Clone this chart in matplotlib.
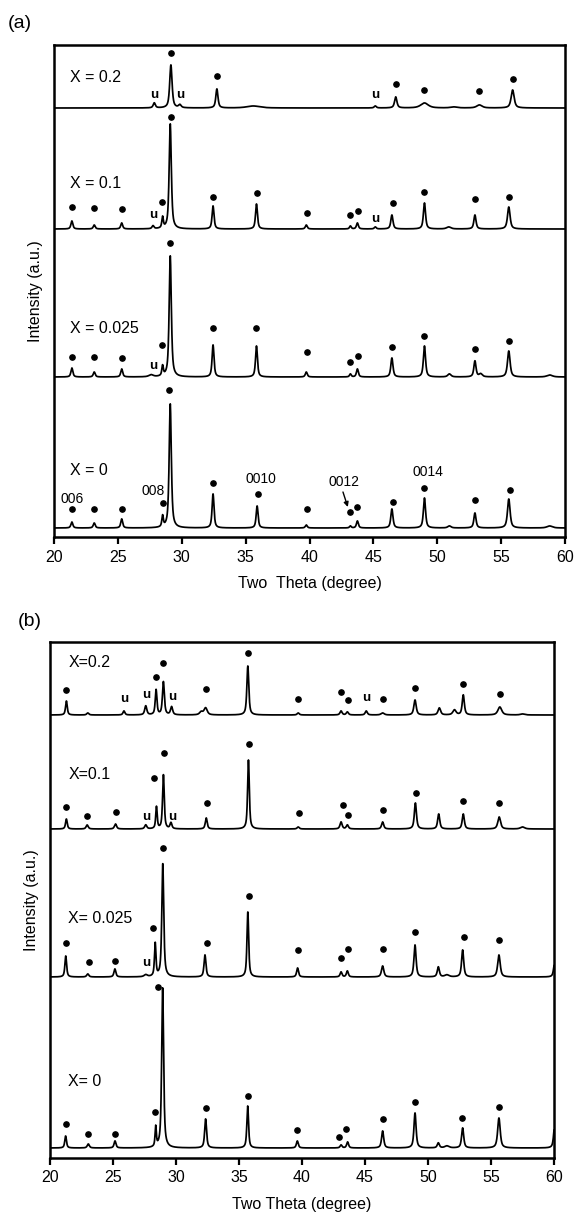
import numpy as np
import matplotlib.pyplot as plt

plt.rcParams['font.family'] = ['Liberation Sans', 'DejaVu Sans']

# scan range shared by both panels
two_theta = np.linspace(20, 60, 4001)

# ---------------- panel (a) ----------------
a_names = ['X = 0.2', 'X = 0.1', 'X = 0.025', 'X = 0']
a_offsets = [429, 308, 160, 9]

a02_pos = [27.85, 29.15, 29.85, 32.75, 35.6, 45.15, 46.75, 49.0, 51.3, 53.3, 55.9]
a02_hgt = [5, 43, 3, 19, 2, 2, 11, 5, 1, 3, 18]
a02_wid = [0.1, 0.11, 0.12, 0.1, 0.6, 0.1, 0.11, 0.35, 0.3, 0.25, 0.14]
a02_dot_x = [29.15, 32.75, 46.75, 49.0, 53.3, 55.9]
a02_dot_y = [484, 461, 453, 447, 446, 458]

a01_pos = [21.4, 23.15, 25.3, 27.75, 28.5, 29.1, 32.45, 35.85, 39.75, 43.2, 43.75, 45.15,
           46.45, 49.0, 50.9, 52.95, 55.6]
a01_hgt = [8, 4, 6, 3, 11, 105, 23, 25, 4, 3, 6, 2, 14, 26, 2, 14, 22]
a01_wid = [0.09, 0.09, 0.09, 0.09, 0.07, 0.1, 0.09, 0.09, 0.09, 0.08, 0.09, 0.09,
           0.1, 0.1, 0.2, 0.1, 0.12]
a01_dot_x = [21.4, 23.15, 25.3, 28.45, 29.15, 32.45, 35.9, 39.8, 43.2, 43.8, 46.5, 49.0,
             52.95, 55.65]
a01_dot_y = [330, 329, 328, 335, 420, 340, 344, 324, 322, 326, 334, 345, 338, 340]

a025_pos = [21.4, 23.15, 25.3, 27.6, 28.5, 29.1, 32.45, 35.85, 39.75, 43.2, 43.75, 46.45,
            49.0, 50.95, 52.95, 53.4, 55.6, 58.8]
a025_hgt = [9, 5, 8, 2, 10, 121, 32, 31, 5, 3, 8, 19, 31, 3, 16, 3, 26, 2]
a025_wid = [0.09, 0.09, 0.09, 0.2, 0.07, 0.1, 0.09, 0.09, 0.09, 0.08, 0.09, 0.1,
            0.1, 0.15, 0.1, 0.15, 0.12, 0.25]
a025_dot_x = [21.4, 23.15, 25.3, 28.45, 29.05, 32.45, 35.85, 39.8, 43.2, 43.8, 46.45,
              49.0, 52.95, 55.6]
a025_dot_y = [180, 180, 179, 192, 294, 209, 209, 185, 175, 181, 190, 201, 188, 196]

a0_pos = [21.4, 23.15, 25.3, 28.5, 29.1, 32.45, 35.9, 39.75, 43.2, 43.75, 46.45, 49.0,
          50.95, 52.95, 55.6, 58.8]
a0_hgt = [6, 5, 9, 11, 124, 34, 22, 3, 2, 7, 19, 30, 2, 15, 29, 2]
a0_wid = [0.09, 0.09, 0.09, 0.07, 0.1, 0.09, 0.09, 0.09, 0.08, 0.09, 0.1, 0.1,
          0.15, 0.1, 0.12, 0.25]
a0_dot_x = [21.4, 23.15, 25.3, 28.5, 29.0, 32.45, 35.95, 39.8, 43.15, 43.75, 46.5, 49.0,
            52.95, 55.7]
a0_dot_y = [28, 28, 28, 34, 147, 54, 43, 28, 25, 30, 35, 49, 37, 47]

a_u_x = [27.83, 29.86, 45.13, 27.75, 45.13, 27.75]
a_u_y = [442, 442, 442, 322, 318, 171]

a_hkl = ['006', '008', '0010', '0012', '0014']
a_hkl_x = [21.4, 27.75, 36.2, 42.7, 49.3]
a_hkl_y = [38, 46, 58, 55, 65]

# ---------------- panel (b) ----------------
b_names = ['X=0.2', 'X=0.1', 'X= 0.025', 'X= 0']
b_offsets = [443, 329, 181, 10]

b02_pos = [21.3, 23.0, 25.87, 27.6, 28.42, 29.0, 29.65, 32.0, 32.35, 35.7, 39.7, 43.1,
           43.6, 45.1, 46.4, 48.97, 50.9, 52.1, 52.8, 55.7, 57.5]
b02_hgt = [14, 2, 4, 9, 25, 33, 8, 3, 7, 49, 2, 4, 3, 4, 2, 15, 7, 5, 20, 8, 1]
b02_wid = [0.08, 0.1, 0.09, 0.1, 0.08, 0.09, 0.1, 0.15, 0.15, 0.09, 0.1, 0.1,
           0.1, 0.1, 0.15, 0.11, 0.12, 0.15, 0.1, 0.18, 0.2]
b02_dot_x = [21.27, 28.41, 28.97, 32.38, 35.71, 39.68, 43.1, 43.65, 46.43, 48.97, 52.78,
             55.71]
b02_dot_y = [468, 481, 495, 469, 505, 459, 466, 458, 459, 470, 474, 464]

b01_pos = [21.3, 22.95, 25.2, 27.6, 28.45, 29.0, 29.6, 32.4, 35.75, 39.7, 43.1, 43.6,
           46.4, 49.0, 50.85, 52.8, 55.65, 57.5]
b01_hgt = [10, 4, 5, 4, 22, 54, 6, 11, 69, 2, 7, 4, 7, 26, 15, 15, 12, 2]
b01_wid = [0.08, 0.1, 0.1, 0.1, 0.07, 0.08, 0.09, 0.09, 0.08, 0.1, 0.1, 0.1,
           0.1, 0.1, 0.1, 0.1, 0.13, 0.2]
b01_dot_x = [21.3, 22.94, 25.24, 28.25, 29.05, 32.46, 35.8, 39.76, 43.25, 43.65, 46.43,
             49.05, 52.78, 55.63]
b01_dot_y = [351, 342, 346, 380, 405, 355, 414, 345, 353, 343, 348, 365, 357, 355]

b025_pos = [21.25, 23.0, 25.15, 27.6, 28.35, 28.95, 32.3, 35.7, 39.65, 43.1, 43.6, 46.4,
            48.97, 50.82, 51.5, 52.75, 55.63, 60.05]
b025_hgt = [21, 3, 8, 2, 33, 113, 22, 65, 9, 5, 6, 11, 32, 10, 2, 27, 22, 14]
b025_wid = [0.08, 0.1, 0.09, 0.15, 0.07, 0.09, 0.09, 0.08, 0.09, 0.09, 0.09, 0.11,
            0.1, 0.1, 0.2, 0.1, 0.12, 0.1]
b025_dot_x = [21.27, 23.1, 25.16, 28.2, 28.97, 32.46, 35.8, 39.68, 43.1, 43.65, 46.43,
              48.97, 52.86, 55.63]
b025_dot_y = [215, 196, 197, 230, 310, 215, 262, 208, 200, 209, 209, 226, 221, 218]

b0_pos = [21.24, 23.04, 25.16, 28.39, 28.94, 32.35, 35.69, 39.63, 43.1, 43.62, 46.4,
          48.97, 50.82, 51.5, 52.75, 55.63, 60.05]
b0_hgt = [12, 4, 7, 20, 160, 29, 42, 7, 3, 6, 17, 35, 5, 2, 20, 30, 22]
b0_wid = [0.08, 0.1, 0.09, 0.06, 0.09, 0.09, 0.08, 0.09, 0.09, 0.09, 0.1,
          0.1, 0.1, 0.2, 0.1, 0.12, 0.1]
b0_dot_x = [21.27, 23.0, 25.16, 28.33, 28.55, 32.35, 35.7, 39.6, 42.94, 43.5, 46.4,
            48.97, 52.7, 55.63]
b0_dot_y = [34, 24, 24, 46, 171, 50, 62, 28, 21, 29, 39, 56, 40, 51]

b_u_x = [25.87, 27.62, 29.68, 45.08, 27.62, 29.68, 27.62]
b_u_y = [459, 463, 461, 460, 341, 341, 195]


def profile(pos, hgt, wid, eta=0.7):
    # pseudo-Voigt sum for a list of reflections
    y = np.zeros_like(two_theta)
    for p, h, w in zip(pos, hgt, wid):
        d = (two_theta - p) / w
        lor = 1.0 / (1.0 + d ** 2)
        gau = np.exp(-np.log(2) * d ** 2)
        y += h * (eta * lor + (1 - eta) * gau)
    return y


def draw_pattern(ax, offset, pos, hgt, wid, dot_x, dot_y):
    ax.plot(two_theta, offset + profile(pos, hgt, wid), color='black', lw=1.25)
    ax.plot(dot_x, dot_y, 'o', color='black', ms=3.8, ls='none')


def style_axes(ax, ymax, xlabel):
    ax.set_xlim(20, 60)
    ax.set_ylim(0, ymax)
    ax.set_xticks(np.arange(20, 61, 5))
    ax.set_yticks([])
    ax.tick_params(axis='x', direction='out', length=5, width=1.6, labelsize=11.5, pad=4)
    for s in ax.spines.values():
        s.set_linewidth(1.8)
    ax.set_xlabel(xlabel, fontsize=11.5, labelpad=8)
    ax.set_ylabel('Intensity (a.u.)', fontsize=11.5, labelpad=8)


fig = plt.figure(figsize=(5.76, 12.2), dpi=100)

# panel (a)
ax1 = fig.add_axes([54 / 576, 1 - 537 / 1220, 511 / 576, 492 / 1220])
draw_pattern(ax1, a_offsets[0], a02_pos, a02_hgt, a02_wid, a02_dot_x, a02_dot_y)
draw_pattern(ax1, a_offsets[1], a01_pos, a01_hgt, a01_wid, a01_dot_x, a01_dot_y)
draw_pattern(ax1, a_offsets[2], a025_pos, a025_hgt, a025_wid, a025_dot_x, a025_dot_y)
draw_pattern(ax1, a_offsets[3], a0_pos, a0_hgt, a0_wid, a0_dot_x, a0_dot_y)
for name, yy in zip(a_names, [460, 354, 209, 67]):
    ax1.text(21.25, yy, name, fontsize=11.5, va='center', ha='left')
for ux, uy in zip(a_u_x, a_u_y):
    ax1.text(ux, uy, 'u', fontsize=9.5, fontweight='bold', ha='center', va='center')
for lab, hx, hy in zip(a_hkl, a_hkl_x, a_hkl_y):
    ax1.text(hx, hy, lab, fontsize=10, ha='center', va='center')
ax1.annotate('', xy=(43.0, 30), xytext=(42.62, 45),
             arrowprops=dict(arrowstyle='-|>', color='black', lw=1.0,
                             mutation_scale=7, shrinkA=0, shrinkB=0))
style_axes(ax1, 492, 'Two  Theta (degree)')
fig.text(8 / 576, 1 - 23 / 1220, '(a)', fontsize=14, va='center', ha='left')

# panel (b)
ax2 = fig.add_axes([50 / 576, 1 - 1158 / 1220, 504 / 576, 516 / 1220])
draw_pattern(ax2, b_offsets[0], b02_pos, b02_hgt, b02_wid, b02_dot_x, b02_dot_y)
draw_pattern(ax2, b_offsets[1], b01_pos, b01_hgt, b01_wid, b01_dot_x, b01_dot_y)
draw_pattern(ax2, b_offsets[2], b025_pos, b025_hgt, b025_wid, b025_dot_x, b025_dot_y)
draw_pattern(ax2, b_offsets[3], b0_pos, b0_hgt, b0_wid, b0_dot_x, b0_dot_y)
for name, yy in zip(b_names, [495, 383, 239, 76]):
    ax2.text(21.45, yy, name, fontsize=11.5, va='center', ha='left')
for ux, uy in zip(b_u_x, b_u_y):
    ax2.text(ux, uy, 'u', fontsize=9.5, fontweight='bold', ha='center', va='center')
style_axes(ax2, 516, 'Two Theta (degree)')
fig.text(18 / 576, 1 - 622 / 1220, '(b)', fontsize=14, va='center', ha='left')

fig.savefig('out.png', dpi=100)
